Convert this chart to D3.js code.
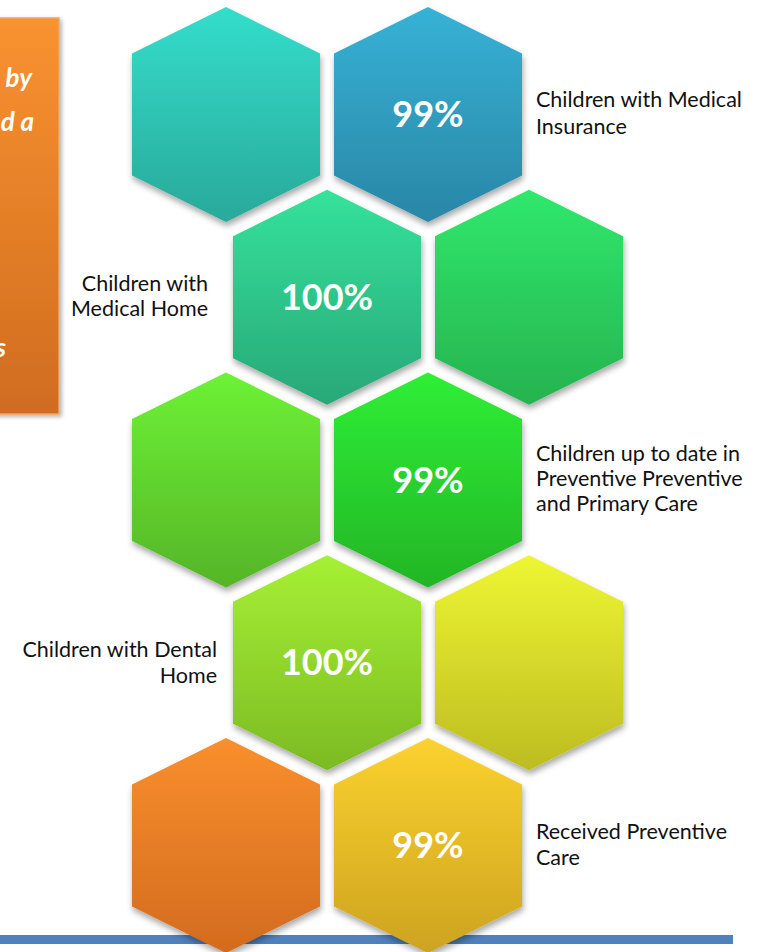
<!DOCTYPE html>
<html>
<head>
<meta charset="utf-8">
<script src="https://cdn.jsdelivr.net/npm/d3@7"></script>
<style>
  html, body { margin: 0; padding: 0; background: #ffffff; }
  svg { display: block; }
</style>
</head>
<body>
<svg id="chart" width="772" height="952"></svg>
<script>
// ---- data ----
const hexRows   = [0, 0, 1, 1, 2, 2, 3, 3, 4, 4];
const hexCols   = [0, 2, 1, 3, 0, 2, 1, 3, 0, 2];
const hexValues = [null, 99, 100, null, null, 99, 100, null, null, 99];
const hexTop    = ["#34DDCB", "#36B2D6", "#35E29C", "#30E86C", "#6DF235", "#2FEF36", "#A6F035", "#EEF632", "#F98F2D", "#FBD22E"];
const hexBottom = ["#29A99A", "#2A86A6", "#28A877", "#26B34F", "#55B527", "#23B526", "#7CBB23", "#BDBC21", "#D36B1E", "#CDA320"];

const categories = [
  "Children with Medical Insurance",
  "Children with Medical Home",
  "Children up to date in Preventive Preventive and Primary Care",
  "Children with Dental Home",
  "Received Preventive Care"
];
const categoryLines = [
  ["Children with Medical", "Insurance"],
  ["Children with", "Medical Home"],
  ["Children up to date in", "Preventive Preventive", "and Primary Care"],
  ["Children with Dental", "Home"],
  ["Received Preventive", "Care"]
];
const categoryHex  = [1, 2, 5, 6, 9];          // which hexagon each label belongs to
const categorySide = ["right", "left", "right", "left", "right"];

const boxTextLines = ["by", "d a", "s"];       // visible fragments of the cropped side box

// ---- layout ----
const svg = d3.select("#chart");
const x = d3.scaleLinear().domain([0, 3]).range([226, 529]);
const y = d3.scaleLinear().domain([0, 4]).range([114.5, 845.5]);
const hw = 94, hTop = 107.5, hSide = 61;

const defs = svg.append("defs");
const shadow = defs.append("filter").attr("id", "shadow")
  .attr("x", "-20%").attr("y", "-20%").attr("width", "140%").attr("height", "140%");
shadow.append("feDropShadow").attr("dx", 1).attr("dy", 4).attr("stdDeviation", 3)
  .attr("flood-color", "#000").attr("flood-opacity", 0.35);

const boxShadow = defs.append("filter").attr("id", "boxshadow")
  .attr("x", "-20%").attr("y", "-10%").attr("width", "140%").attr("height", "120%");
boxShadow.append("feDropShadow").attr("dx", 2).attr("dy", 2).attr("stdDeviation", 2)
  .attr("flood-color", "#000").attr("flood-opacity", 0.3);

hexTop.forEach((c, i) => {
  const g = defs.append("linearGradient").attr("id", "hg" + i)
    .attr("x1", 0).attr("y1", 0).attr("x2", 0).attr("y2", 1);
  g.append("stop").attr("offset", "0%").attr("stop-color", c);
  g.append("stop").attr("offset", "100%").attr("stop-color", hexBottom[i]);
});
const og = defs.append("linearGradient").attr("id", "boxg")
  .attr("x1", 0).attr("y1", 0).attr("x2", 0).attr("y2", 1);
og.append("stop").attr("offset", "0%").attr("stop-color", "#F99230");
og.append("stop").attr("offset", "100%").attr("stop-color", "#D06C20");

// side box (cropped at the left edge)
svg.append("rect")
  .attr("x", -20).attr("y", 18).attr("width", 79).attr("height", 396)
  .attr("fill", "url(#boxg)")
  .attr("stroke", "#F6A55E").attr("stroke-width", 1.5)
  .attr("filter", "url(#boxshadow)");
const boxTextX = [32, 34, 6];
const boxTextY = [87, 131, 357];
svg.selectAll("text.box").data(boxTextLines).join("text")
  .attr("class", "box")
  .attr("x", (d, i) => boxTextX[i]).attr("y", (d, i) => boxTextY[i])
  .attr("text-anchor", "end")
  .attr("font-family", "Lato, 'Open Sans', sans-serif")
  .attr("font-size", 26).attr("font-weight", "bold").attr("font-style", "italic")
  .attr("fill", "#ffffff")
  .text(d => d);

// bottom bar (behind hexagons)
svg.append("rect")
  .attr("x", 0).attr("y", 935).attr("width", 733).attr("height", 9)
  .attr("fill", "#4F81BD");

// hexagons
const hexPath = (cx, cy) => {
  const pts = [
    [cx, cy - hTop], [cx + hw, cy - hSide], [cx + hw, cy + hSide],
    [cx, cy + hTop], [cx - hw, cy + hSide], [cx - hw, cy - hSide]
  ];
  return d3.line()(pts) + "Z";
};
const hexData = hexRows.map((r, i) => ({ i, r, c: hexCols[i], v: hexValues[i] }));
svg.selectAll("path.hex").data(hexData).join("path")
  .attr("class", "hex")
  .attr("d", d => hexPath(x(d.c), y(d.r)))
  .attr("fill", d => `url(#hg${d.i})`)
  .attr("filter", "url(#shadow)");

svg.selectAll("text.val").data(hexData.filter(d => d.v != null)).join("text")
  .attr("class", "val")
  .attr("x", d => x(d.c)).attr("y", d => y(d.r) + 12.5)
  .attr("text-anchor", "middle")
  .attr("font-family", "Lato, 'Open Sans', sans-serif")
  .attr("font-size", 36).attr("font-weight", "bold")
  .attr("fill", "#ffffff")
  .text(d => d.v + "%");

// category labels
const labelFirstBaseline = [107, 290.5, 461, 657, 839];
const lineGap = [26.5, 25.5, 25, 25.5, 26];
const labelGap = [14, 25, 14, 16, 14];
categories.forEach((name, k) => {
  const h = hexData[categoryHex[k]];
  const right = categorySide[k] === "right";
  const lx = right ? x(h.c) + hw + labelGap[k] : x(h.c) - hw - labelGap[k];
  const t = svg.append("text")
    .attr("class", "cat")
    .attr("text-anchor", right ? "start" : "end")
    .attr("font-family", "Lato, 'Open Sans', sans-serif")
    .attr("font-size", 21.5)
    .attr("fill", "#111111");
  categoryLines[k].forEach((ln, j) => {
    t.append("tspan").attr("x", lx).attr("y", labelFirstBaseline[k] + j * lineGap[k]).text(ln);
  });
});
</script>
</body>
</html>
